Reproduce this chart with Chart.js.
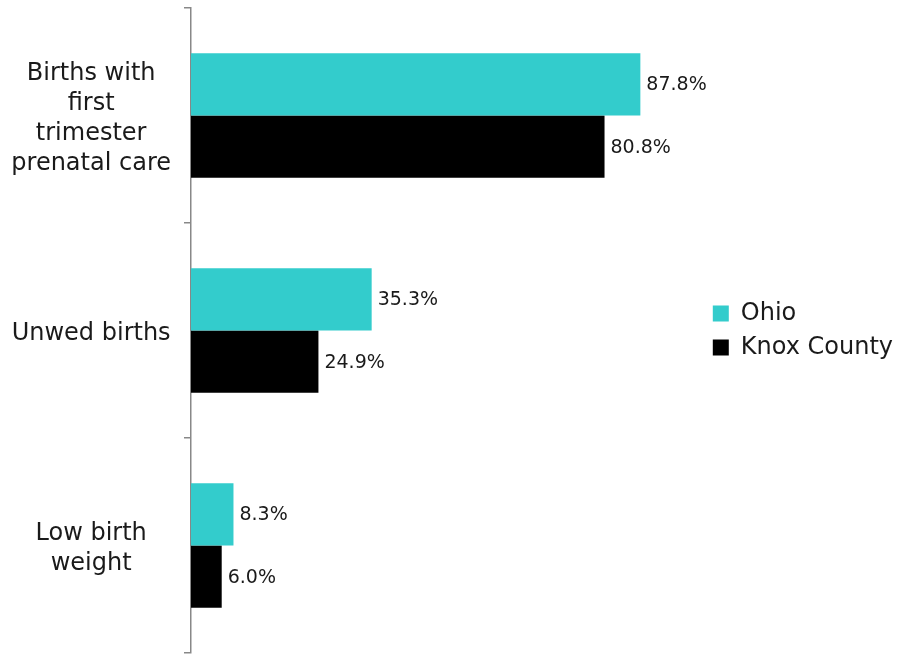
<!DOCTYPE html>
<html>
<head>
<meta charset="utf-8">
<script src="https://cdn.jsdelivr.net/npm/chart.js@4.4.1/dist/chart.umd.min.js"></script>
<style>
  html, body { margin: 0; padding: 0; background: #fff; }
  #wrap { width: 900px; height: 656px; }
</style>
</head>
<body>
<div id="wrap"><canvas id="myChart"></canvas></div>
<script>
// data
const categories = [
    ['Births with', 'first', 'trimester', 'prenatal care'],
    'Unwed births',
    ['Low birth', 'weight']
]
const ohio = [87.8, 35.3, 8.3]
const knox = [80.8, 24.9, 6.0]
const seriesNames = ['Ohio', 'Knox County']

const fontFam = '"DejaVu Sans", Verdana, sans-serif'

// puts the "87.8%" text at the end of each bar
const valueLabels = {
    id: 'valueLabels',
    afterDatasetsDraw(chart) {
        const ctx = chart.ctx
        ctx.save()
        ctx.font = '19px ' + fontFam
        ctx.fillStyle = '#1a1a1a'
        ctx.textAlign = 'left'
        ctx.textBaseline = 'middle'
        chart.data.datasets.forEach(function (ds, i) {
            chart.getDatasetMeta(i).data.forEach(function (bar, j) {
                ctx.fillText(ds.data[j].toFixed(1) + '%', bar.x + 6, bar.y + 1)
            })
        })
        ctx.restore()
    }
}

const ctx = document.getElementById('myChart');

new Chart(ctx, {
    type: 'bar',
    data: {
        labels: categories,
        datasets: [
            {
                label: seriesNames[0],
                data: ohio,
                backgroundColor: '#33cccc',
                categoryPercentage: 0.58,
                barPercentage: 1.0
            },
            {
                label: seriesNames[1],
                data: knox,
                backgroundColor: '#000000',
                categoryPercentage: 0.58,
                barPercentage: 1.0
            }
        ]
    },
    options: {
        indexAxis: 'y',
        responsive: true,
        maintainAspectRatio: false,
        animation: false,
        layout: {
            padding: { top: 8, bottom: 3, left: 0, right: -3 }
        },
        scales: {
            x: {
                display: false,
                min: 0,
                max: 100
            },
            y: {
                afterFit: function (scale) {
                    // fixed axis position, and no extra room for the tall labels
                    scale.width = 191
                    scale.paddingTop = 0
                    scale.paddingBottom = 0
                },
                border: { display: true, color: '#888', width: 1.5 },
                grid: {
                    offset: true,
                    drawOnChartArea: false,
                    tickLength: 7,
                    color: '#888',
                    lineWidth: 1.5
                },
                ticks: {
                    crossAlign: 'center',
                    padding: 13,
                    labelOffset: 3,
                    color: '#1a1a1a',
                    font: { family: fontFam, size: 24, lineHeight: 1.25 }
                }
            }
        },
        plugins: {
            legend: {
                position: 'right',
                align: 'center',
                labels: {
                    boxWidth: 16,
                    boxHeight: 16,
                    padding: 10,
                    color: '#1a1a1a',
                    font: { family: fontFam, size: 24 }
                }
            },
            tooltip: { enabled: false }
        }
    },
    plugins: [valueLabels]
});
</script>
</body>
</html>
